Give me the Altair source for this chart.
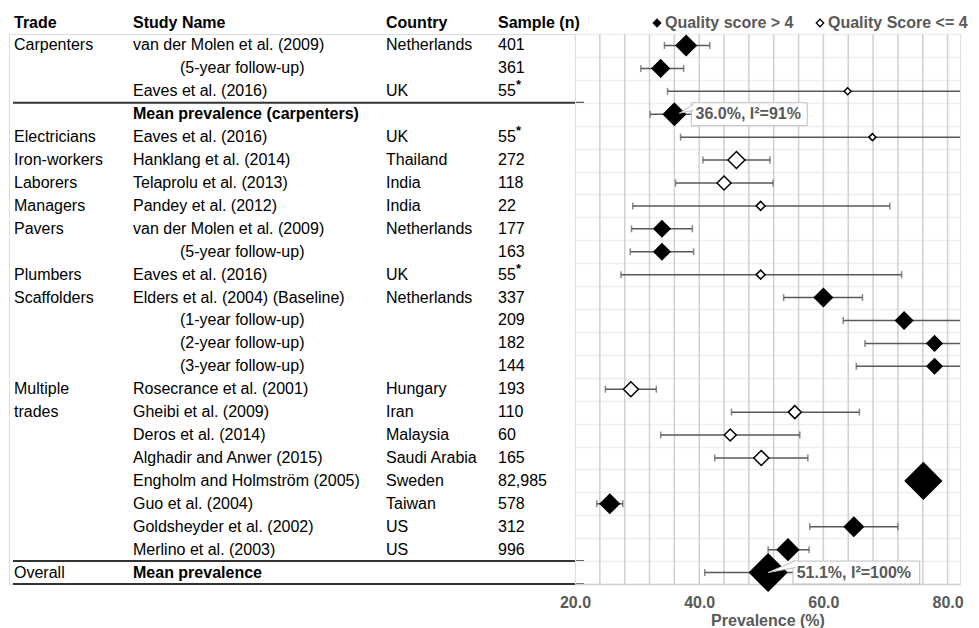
import altair as alt
import pandas as pd

# ---------------- data ----------------
trades = ["Carpenters", "", "", "", "Electricians", "Iron-workers", "Laborers", "Managers",
          "Pavers", "", "Plumbers", "Scaffolders", "", "", "", "Multiple", "trades", "", "",
          "", "", "", "", "Overall"]
studies = ["van der Molen et al. (2009)", "", "Eaves et al. (2016)", "Mean prevalence (carpenters)",
           "Eaves et al. (2016)", "Hanklang et al. (2014)", "Telaprolu et al. (2013)",
           "Pandey et al. (2012)", "van der Molen et al. (2009)", "", "Eaves et al. (2016)",
           "Elders et al. (2004) (Baseline)", "", "", "", "Rosecrance et al. (2001)",
           "Gheibi et al. (2009)", "Deros et al. (2014)", "Alghadir and Anwer (2015)",
           "Engholm and Holmström (2005)", "Guo et al. (2004)", "Goldsheyder et al. (2002)",
           "Merlino et al. (2003)", "Mean prevalence"]
followups = ["", "(5-year follow-up)", "", "", "", "", "", "", "", "(5-year follow-up)", "", "",
             "(1-year follow-up)", "(2-year follow-up)", "(3-year follow-up)", "", "", "", "",
             "", "", "", "", ""]
countries = ["Netherlands", "", "UK", "", "UK", "Thailand", "India", "India", "Netherlands", "",
             "UK", "Netherlands", "", "", "", "Hungary", "Iran", "Malaysia", "Saudi Arabia",
             "Sweden", "Taiwan", "US", "US", ""]
samples = ["401", "361", "55*", "", "55*", "272", "118", "22", "177", "163", "55*", "337", "209",
           "182", "144", "193", "110", "60", "165", "82,985", "578", "312", "996", ""]
prevalence = [37.9, 33.8, 63.9, 36.0, 67.9, 46.0, 44.0, 49.9, 34.0, 34.0, 49.9, 60.0, 73.0, 77.9,
              77.9, 29.0, 55.4, 45.0, 50.0, 76.1, 25.6, 64.9, 54.3, 51.1]
ci_low = [34.4, 30.6, 34.9, 32.1, 37.0, 40.6, 36.2, 29.3, 29.1, 28.9, 27.4, 53.6, 63.2, 66.7,
          65.3, 24.9, 45.2, 33.8, 42.5, 75.8, 23.5, 57.8, 51.1, 40.9]
ci_high = [41.7, 37.5, 90.0, 40.0, 92.0, 51.4, 51.9, 70.7, 38.9, 39.1, 72.6, 66.3, 84.0, 88.0,
           88.0, 33.1, 65.8, 56.2, 57.5, 76.4, 27.7, 72.0, 57.7, 61.3]
quality = ["Quality score > 4", "Quality score > 4", "Quality Score <= 4", "",
           "Quality Score <= 4", "Quality Score <= 4", "Quality Score <= 4", "Quality Score <= 4",
           "Quality score > 4", "Quality score > 4", "Quality Score <= 4", "Quality score > 4",
           "Quality score > 4", "Quality score > 4", "Quality score > 4", "Quality Score <= 4",
           "Quality Score <= 4", "Quality Score <= 4", "Quality Score <= 4", "Quality score > 4",
           "Quality score > 4", "Quality score > 4", "Quality score > 4", ""]
kinds = ["study"] * 3 + ["pooled"] + ["study"] * 19 + ["pooled"]
weights = [40.0, 28.9, 4.9, 48.4, 4.9, 28.9, 19.6, 8.1, 25.6, 25.6, 8.1, 32.4, 28.9, 22.5, 22.5,
           22.5, 16.9, 14.4, 22.5, 129.6, 36.1, 36.1, 44.1, 136.9]
pooled_i2 = {4: 91, 24: 100}
headers = {"trade": "Trade", "study": "Study Name", "country": "Country", "sample": "Sample (n)"}
quality_labels = ["Quality score > 4", "Quality Score <= 4"]
axis_labels = [20, 40, 60, 80]
gridvals = list(range(24, 81, 4))

# ---------------- layout / style ----------------
FONT = "Liberation Sans"
GRAY = "#595959"
W_TABLE, W_PLOT, H = 566, 385, 550
col_px = {"trade": 5, "study": 124, "sub": 171, "country": 377, "sample": 489}

rows = list(range(1, len(studies) + 1))
df = pd.DataFrame(dict(row=rows, est=prevalence, lo=ci_low, hi=ci_high, quality=quality,
                       weight=weights, kind=kinds))

# ---------------- table panel ----------------
tab_records = []
for r, t, s, f, c, n in zip(rows, trades, studies, followups, countries, samples):
    for col, txt in (("trade", t), ("study", s), ("sub", f), ("country", c), ("sample", n)):
        if txt:
            star = txt.endswith("*")
            tab_records.append(dict(row=r, col=col, text=txt.rstrip("*"),
                                    star="*" if star else "",
                                    bold=txt.startswith("Mean prevalence")))
tab = pd.DataFrame(tab_records)

y_tab = alt.Y("row:O", axis=None,
              scale=alt.Scale(domain=rows, paddingInner=0, paddingOuter=0))

table_layers = []
for col, px in col_px.items():
    sub = tab[tab.col == col]
    for bold in (False, True):
        part = sub[sub.bold == bold]
        if len(part) == 0:
            continue
        table_layers.append(
            alt.Chart(part).mark_text(align="left", baseline="middle", font=FONT, fontSize=16,
                                      color="black", fontWeight="bold" if bold else "normal")
            .encode(x=alt.value(px), y=y_tab, text="text:N"))
stars = tab[tab.star == "*"]
table_layers.append(
    alt.Chart(stars).mark_text(align="left", baseline="middle", font=FONT, fontSize=13,
                               fontWeight="bold", color="black", dx=18, dy=-6)
    .encode(x=alt.value(col_px["sample"]), y=y_tab, text="star:N"))
hdr = pd.DataFrame({"col": list(headers.keys()), "text": list(headers.values())})
for col, txt in headers.items():
    table_layers.append(
        alt.Chart(hdr[hdr.col == col]).mark_text(align="left", baseline="middle", font=FONT,
                                                 fontSize=16, fontWeight="bold", color="black")
        .encode(x=alt.value(col_px[col]), y=alt.value(-11), text="text:N"))

rule_df = pd.DataFrame({"row": [4, 24]})
table_layers.append(
    alt.Chart(rule_df).mark_rule(color="#333333", strokeWidth=2)
    .encode(y=alt.Y("row:O", bandPosition=0, axis=None,
                    scale=alt.Scale(domain=rows, paddingInner=0, paddingOuter=0)),
            x=alt.value(4), x2=alt.value(W_TABLE + 9)))
table_layers.append(
    alt.Chart(pd.DataFrame({"row": [24]})).mark_rule(color="#333333", strokeWidth=2)
    .encode(y=alt.Y("row:O", bandPosition=1, axis=None,
                    scale=alt.Scale(domain=rows, paddingInner=0, paddingOuter=0)),
            x=alt.value(4), x2=alt.value(W_TABLE + 9)))

table = alt.layer(*table_layers).properties(width=W_TABLE, height=H)

# ---------------- plot panel ----------------
x_scale = alt.Scale(domain=[20, 82], nice=False, zero=False)
x_axis = alt.Axis(values=axis_labels, format=".1f", grid=False, ticks=False, domain=True,
                  domainColor="#d0d0d0", domainWidth=1.5, labelFlush=False,
                  labelFont=FONT, labelFontSize=16, labelFontWeight="bold", labelColor=GRAY,
                  labelPadding=10, title="Prevalence (%)", titleFont=FONT, titleFontSize=16,
                  titleFontWeight="bold", titleColor=GRAY, titlePadding=2)


def X(field):
    return alt.X(f"{field}:Q", scale=x_scale, axis=x_axis)


y_plot = alt.Y("row:O", scale=alt.Scale(domain=rows, paddingInner=0, paddingOuter=0),
               axis=alt.Axis(grid=True, tickBand="extent", labels=False, ticks=False,
                             domain=False, title=None, gridColor="#efefef", gridWidth=1.5))
size_enc = alt.Size("weight:Q", scale=alt.Scale(domain=[0, 100], range=[0, 1000]), legend=None)

base = alt.Chart(df)
grid = alt.Chart(pd.DataFrame({"g": gridvals})).mark_rule(color="#d0d0d0", strokeWidth=1.5).encode(
    x=X("g"), y=alt.value(0), y2=alt.value(H))
err = base.mark_rule(color=GRAY, strokeWidth=1.5, clip=True).encode(x=X("lo"), x2="hi:Q", y=y_plot)
cap_lo = base.mark_tick(color=GRAY, thickness=1.5, size=7, clip=True).encode(x=X("lo"), y=y_plot)
cap_hi = base.mark_tick(color=GRAY, thickness=1.5, size=7, clip=True).encode(x=X("hi"), y=y_plot)
pts = base.transform_filter("datum.kind == 'study'").mark_point(
    shape="diamond", filled=True, stroke="black", strokeWidth=1.5, opacity=1).encode(
    x=X("est"), y=y_plot, size=size_enc,
    fill=alt.Fill("quality:N", scale=alt.Scale(domain=quality_labels, range=["black", "white"]),
                  legend=alt.Legend(title=None, orient="none", legendX=640, legendY=-19,
                                    direction="horizontal", symbolType="diamond",
                                    symbolSize=55, symbolStrokeColor="black",
                                    symbolStrokeWidth=1.3, labelFont=FONT, labelFontSize=16,
                                    labelFontWeight="bold", labelColor=GRAY, labelOffset=0,
                                    columnPadding=18, padding=0)))
pooled = base.transform_filter("datum.kind == 'pooled'").mark_point(
    shape="diamond", filled=True, fill="black", stroke="black", strokeWidth=1.5, opacity=1).encode(
    x=X("est"), y=y_plot, size=size_enc)

layers = [grid, err, cap_lo, cap_hi, pts, pooled]

# callout boxes for pooled estimates (box offset, box right, text dx, wedge path, wedge size)
callout_style = {
    4: (16.9, 132.9, 21.2, "M0.97,-0.2 L0.25,-0.05 L0.97,-0.5", 1600),
    24: (24.9, 151.6, 28.6, "M0.98,-0.18 L0,0 L0.98,-0.43", 3136),
}
for r, i2 in pooled_i2.items():
    est = prevalence[r - 1]
    ann = pd.DataFrame({"row": [r], "est": [est], "label": [f"{est:.1f}%, I\u00b2={i2}%"]})
    x0, x1, tdx, path, wsize = callout_style[r]
    a = alt.Chart(ann)
    layers.append(a.mark_rect(fill="white", stroke="#bfbfbf", strokeWidth=1,
                              xOffset=x0, x2Offset=x1).encode(x=X("est"), x2="est:Q", y=y_plot))
    layers.append(a.mark_point(shape=path, filled=True, fill="white", stroke="#bfbfbf",
                               strokeWidth=1, opacity=1, size=wsize).encode(x=X("est"), y=y_plot))
    layers.append(a.mark_text(align="left", baseline="middle", dx=tdx, font=FONT, fontSize=16,
                              fontWeight="bold", color=GRAY).encode(x=X("est"), y=y_plot,
                                                                     text="label:N"))

plot = alt.layer(*layers).properties(width=W_PLOT, height=H)

chart = (alt.hconcat(table, plot, spacing=0, bounds="flush")
         .properties(padding={"left": 0, "top": 6, "right": 0, "bottom": 0})
         .configure_view(stroke=None)
         .configure(font=FONT))

chart.save("out.html", embed_options={"renderer": "svg", "actions": False})
